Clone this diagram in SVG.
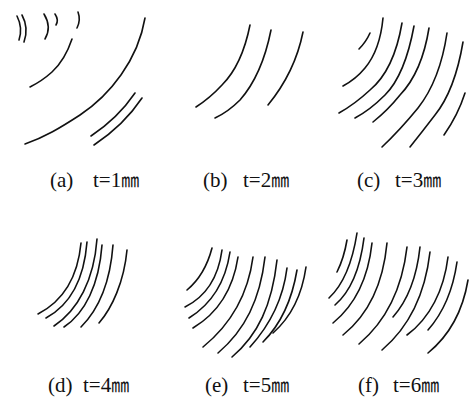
<svg xmlns="http://www.w3.org/2000/svg" width="470" height="398" viewBox="0 0 470 398">
<style>
.c{fill:none;stroke:#111;stroke-width:1.6;stroke-linecap:round;stroke-linejoin:round}
.lbl{font-family:"Liberation Serif","Noto Sans CJK SC",serif;font-size:21px;fill:#111}
.mm{font-family:"Noto Sans CJK SC",sans-serif;font-size:18px}
</style>
<rect width="470" height="398" fill="#fff"/>
<g id="panel-a">
<path class="c" d="M17,16 Q23,28 19,40"/>
<path class="c" d="M22,15 Q29,28 24,42"/>
<path class="c" d="M44,14 Q52,27 45,39"/>
<path class="c" d="M55,14 Q59,20 56,25"/>
<path class="c" d="M78,12 Q81,20 77,28"/>
<path class="c" d="M72,39 Q65,60 52,72 Q42,81 30,87"/>
<path class="c" d="M145,18 C138,60 110,95 80,115 C60,128 45,137 25,144"/>
<path class="c" d="M135,93 Q118,118 91,136"/>
<path class="c" d="M142,98 Q124,125 94,145"/>
<text class="lbl" y="187"><tspan x="50">(a)</tspan><tspan x="93">t=1<tspan class="mm">㎜</tspan></tspan></text>
</g>
<g id="panel-b">
<path class="c" d="M250,25 Q242,65 222,85 Q210,98 196,107"/>
<path class="c" d="M271,30 Q262,75 240,100 Q228,112 215,118"/>
<path class="c" d="M303,32 Q295,72 268,105"/>
<text class="lbl" y="187"><tspan x="203">(b)</tspan><tspan x="243">t=2<tspan class="mm">㎜</tspan></tspan></text>
</g>
<g id="panel-c">
<path class="c" d="M370,33 Q366,42 359,49"/>
<path class="c" d="M383,18 Q380,50 365,68 Q356,79 343,86"/>
<path class="c" d="M402,23 Q394,70 370,90 Q355,104 339,113"/>
<path class="c" d="M414,26 Q405,75 385,95 Q370,110 355,118"/>
<path class="c" d="M429,28 Q422,72 400,95 Q388,110 373,122"/>
<path class="c" d="M447,33 Q440,80 418,108 Q400,130 382,147"/>
<path class="c" d="M463,42 Q455,90 435,115 Q422,132 410,147"/>
<path class="c" d="M465,93 Q458,115 444,135"/>
<text class="lbl" y="187"><tspan x="357">(c)</tspan><tspan x="395">t=3<tspan class="mm">㎜</tspan></tspan></text>
</g>
<g id="panel-d">
<path class="c" d="M81,243 C78,275 65,300 38,314"/>
<path class="c" d="M87,242 C84,280 70,305 46,318"/>
<path class="c" d="M97,239 C94,280 78,310 54,326"/>
<path class="c" d="M102,245 C99,285 85,313 64,327"/>
<path class="c" d="M113,245 C110,285 98,310 81,327"/>
<path class="c" d="M127,250 C124,282 112,308 99,323"/>
<text class="lbl" y="392"><tspan x="48">(d)</tspan><tspan x="83">t=4<tspan class="mm">㎜</tspan></tspan></text>
</g>
<g id="panel-e">
<path class="c" d="M212,248 Q205,275 187,290"/>
<path class="c" d="M222,250 C218,280 205,297 185,307"/>
<path class="c" d="M230,252 C225,285 210,305 189,318"/>
<path class="c" d="M238,257 C233,290 218,313 193,328"/>
<path class="c" d="M253,257 C248,295 230,325 203,347"/>
<path class="c" d="M265,257 C260,300 245,330 218,353"/>
<path class="c" d="M277,260 C272,305 258,335 232,357"/>
<path class="c" d="M287,268 C283,300 270,325 250,347"/>
<path class="c" d="M297,270 C292,300 280,325 263,342"/>
<path class="c" d="M306,267 C302,295 290,318 273,333"/>
<text class="lbl" y="392"><tspan x="205">(e)</tspan><tspan x="243">t=5<tspan class="mm">㎜</tspan></tspan></text>
</g>
<g id="panel-f">
<path class="c" d="M347,240 Q344,258 337,272"/>
<path class="c" d="M357,233 C352,265 343,285 329,298"/>
<path class="c" d="M364,238 C360,270 350,292 335,305"/>
<path class="c" d="M372,243 C368,280 355,305 333,323"/>
<path class="c" d="M387,243 C383,285 368,315 343,335"/>
<path class="c" d="M407,247 C402,290 385,322 359,344"/>
<path class="c" d="M420,247 C417,275 408,300 393,317"/>
<path class="c" d="M430,252 C425,295 408,328 382,350"/>
<path class="c" d="M448,257 C444,290 430,318 407,335"/>
<path class="c" d="M457,262 C453,290 443,313 428,330"/>
<path class="c" d="M468,280 C463,310 450,335 428,353"/>
<text class="lbl" y="392"><tspan x="358">(f)</tspan><tspan x="393">t=6<tspan class="mm">㎜</tspan></tspan></text>
</g>
</svg>
